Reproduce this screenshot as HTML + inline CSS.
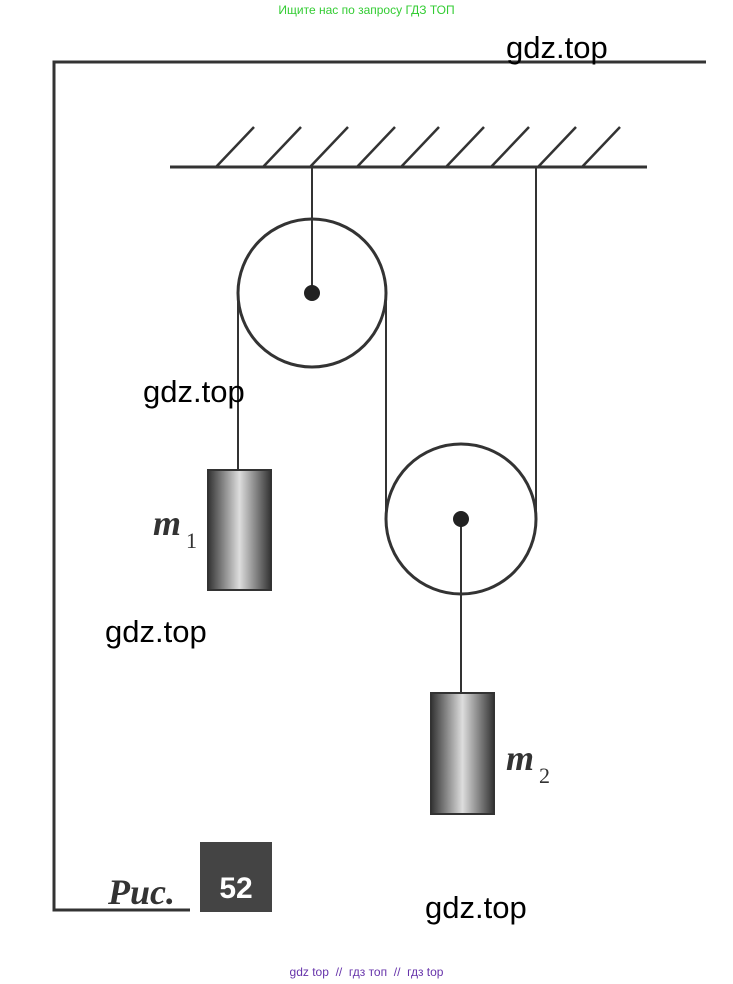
<!DOCTYPE html>
<html><head><meta charset="utf-8"><style>
body{margin:0;background:#fff;width:733px;height:984px;overflow:hidden;position:relative;font-family:"Liberation Sans",sans-serif}
.w{position:absolute;font-size:31px;color:#000;line-height:1}
</style></head><body>
<svg width="733" height="984" style="position:absolute;left:0;top:0">
<defs>
<linearGradient id="g" x1="0" x2="1" y1="0" y2="0">
<stop offset="0" stop-color="#333"/><stop offset="0.5" stop-color="#ddd"/><stop offset="1" stop-color="#333"/>
</linearGradient>
</defs>
<g stroke="#333" fill="none" stroke-width="3">
<polyline points="706,62 54,62 54,910 190,910"/>
<line x1="170" y1="167" x2="647" y2="167"/>
<g stroke-width="2.5">
<line x1="216" y1="167" x2="254" y2="127"/><line x1="263" y1="167" x2="301" y2="127"/>
<line x1="310" y1="167" x2="348" y2="127"/><line x1="357" y1="167" x2="395" y2="127"/>
<line x1="401" y1="167" x2="439" y2="127"/><line x1="446" y1="167" x2="484" y2="127"/>
<line x1="491" y1="167" x2="529" y2="127"/><line x1="538" y1="167" x2="576" y2="127"/>
<line x1="582" y1="167" x2="620" y2="127"/>
</g>
<line x1="312" y1="167" x2="312" y2="293" stroke-width="2"/>
<circle cx="312" cy="293" r="74"/>
<line x1="238" y1="293" x2="238" y2="470" stroke-width="2"/>
<line x1="386" y1="293" x2="386" y2="519" stroke-width="2"/>
<line x1="536" y1="167" x2="536" y2="519" stroke-width="2"/>
<circle cx="461" cy="519" r="75"/>
<line x1="461" y1="519" x2="461" y2="693" stroke-width="2"/>
</g>
<circle cx="312" cy="293" r="8" fill="#222"/>
<circle cx="461" cy="519" r="8" fill="#222"/>
<rect x="208" y="470" width="63" height="120" fill="url(#g)" stroke="#333" stroke-width="2"/>
<rect x="431" y="693" width="63" height="121" fill="url(#g)" stroke="#333" stroke-width="2"/>
<rect x="200" y="842" width="72" height="70" fill="#444"/>
<text x="236" y="898" text-anchor="middle" fill="#fff" font-family="Liberation Sans" font-weight="bold" font-size="30">52</text>
<text x="108" y="904" font-family="Liberation Serif" font-style="italic" font-weight="bold" font-size="36" fill="#333">Рис.</text>
<text x="153" y="535" font-family="Liberation Serif" font-style="italic" font-weight="bold" font-size="36" fill="#333">m</text>
<text x="186" y="548" font-family="Liberation Serif" font-size="22" fill="#333">1</text>
<text x="506" y="770" font-family="Liberation Serif" font-style="italic" font-weight="bold" font-size="36" fill="#333">m</text>
<text x="539" y="783" font-family="Liberation Serif" font-size="22" fill="#333">2</text>
</svg>
<div style="position:absolute;top:3px;left:0;width:733px;text-align:center;font-size:12px;color:#33cc33">Ищите нас по запросу ГДЗ ТОП</div>
<div style="position:absolute;top:965px;left:0;width:733px;text-align:center;font-size:12px;color:#6633aa">gdz top &nbsp;// &nbsp;гдз топ &nbsp;// &nbsp;гдз top</div>
<div class="w" style="left:506px;top:32px">gdz.top</div>
<div class="w" style="left:143px;top:376px">gdz.top</div>
<div class="w" style="left:105px;top:616px">gdz.top</div>
<div class="w" style="left:425px;top:892px">gdz.top</div>
</body></html>
